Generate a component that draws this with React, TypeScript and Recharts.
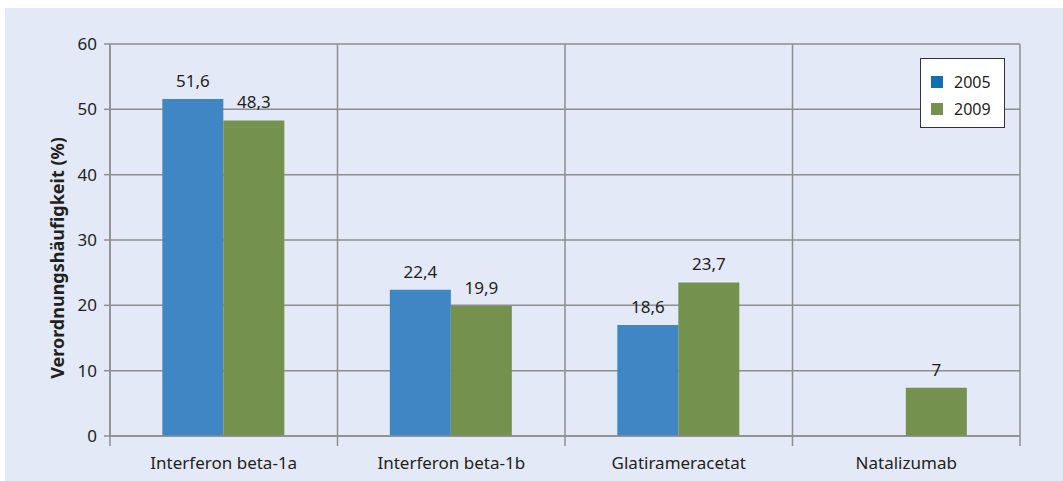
import { Bar, BarChart, CartesianGrid, LabelList, Legend, XAxis, YAxis } from "recharts";

const categories = ["Interferon beta-1a", "Interferon beta-1b", "Glatirameracetat", "Natalizumab"];
// bar heights as drawn
const values2005 = [51.6, 22.4, 17.0, null];
const values2009 = [48.3, 19.9, 23.5, 7.4];
// printed labels
const labels2005 = ["51,6", "22,4", "18,6", ""];
const labels2009 = ["48,3", "19,9", "23,7", "7"];
const yTicks = [0, 10, 20, 30, 40, 50, 60];

const BLUE = "#3f87c4";
const GREEN = "#75914e";
const GRID = "#8e8e8e";
const TEXT = "#231f20";
const FONT = "'Noto Sans', 'Open Sans', sans-serif";

const data = categories.map((name, i) => ({
  name,
  y2005: values2005[i],
  y2009: values2009[i],
  lab2005: labels2005[i],
  lab2009: labels2009[i],
}));

function CategoryTick(props: any) {
  const { x, y, payload } = props;
  const half = payload.offset ?? 0;
  return (
    <g>
      <line x1={x - half} x2={x - half} y1={y - 8} y2={y + 2} stroke={GRID} strokeWidth={1.5} />
      {payload.index === categories.length - 1 && (
        <line x1={x + half} x2={x + half} y1={y - 8} y2={y + 2} stroke={GRID} strokeWidth={1.5} />
      )}
      <text x={x} y={y + 18} textAnchor="middle" dominantBaseline="central" fill={TEXT} fontSize={17} fontFamily={FONT}>
        {payload.value}
      </text>
    </g>
  );
}

function LegendBox() {
  const items = [
    { label: "2005", color: "#0f70b6" },
    { label: "2009", color: GREEN },
  ];
  return (
    <div
      style={{
        width: 85,
        height: 70,
        background: "#fff",
        border: "1px solid #333",
        boxSizing: "border-box",
        paddingTop: 9,
        fontFamily: FONT,
      }}
    >
      {items.map((it) => (
        <div key={it.label} style={{ display: "flex", alignItems: "center", height: 27, paddingLeft: 10 }}>
          <span style={{ width: 12, height: 12, background: it.color, display: "inline-block" }} />
          <span style={{ marginLeft: 11, fontSize: 16, color: TEXT }}>{it.label}</span>
        </div>
      ))}
    </div>
  );
}

export default function App() {
  return (
    <div style={{ position: "absolute", left: 5, top: 8, width: 1058, height: 473, background: "#e3e9f7" }}>
      <BarChart
        width={1058}
        height={473}
        data={data}
        margin={{ top: 36, right: 43, bottom: 15, left: 0 }}
        barCategoryGap="23%"
        barGap={0}
      >
        <CartesianGrid
          stroke={GRID}
          strokeWidth={1.5}
          verticalCoordinatesGenerator={({ offset }: any) =>
            [0, 1, 2, 3, 4].map((i) => offset.left + (offset.width * i) / 4)
          }
        />
        <XAxis
          dataKey="name"
          height={30}
          axisLine={{ stroke: GRID, strokeWidth: 1.5 }}
          tickLine={false}
          tick={<CategoryTick />}
          interval={0}
        />
        <YAxis
          width={105}
          domain={[0, 60]}
          ticks={yTicks}
          interval={0}
          axisLine={{ stroke: GRID, strokeWidth: 1.5 }}
          tickLine={{ stroke: GRID, strokeWidth: 1.5 }}
          tickSize={6}
          tickMargin={7}
          tick={{ fill: TEXT, fontSize: 17, fontFamily: FONT }}
          label={{
            content: ({ viewBox }: any) => {
              const cx = viewBox.x + 52;
              const cy = viewBox.y + viewBox.height / 2 + 18;
              return (
                <text
                  x={cx}
                  y={cy}
                  transform={`rotate(-90 ${cx} ${cy})`}
                  textAnchor="middle"
                  dominantBaseline="central"
                  fill={TEXT}
                  fontSize={18}
                  fontWeight={700}
                  fontFamily={FONT}
                >
                  Verordnungshäufigkeit (%)
                </text>
              );
            },
          }}
        />
        <Legend
          layout="horizontal"
          verticalAlign="middle"
          align="center"
          wrapperStyle={{ left: 915, top: 50, width: 85 }}
          content={() => <LegendBox />}
        />
        <Bar dataKey="y2005" name="2005" fill={BLUE} isAnimationActive={false}>
          <LabelList dataKey="lab2005" position="top" offset={12} fill={TEXT} fontSize={17} fontFamily={FONT} />
        </Bar>
        <Bar dataKey="y2009" name="2009" fill={GREEN} isAnimationActive={false}>
          <LabelList dataKey="lab2009" position="top" offset={12} fill={TEXT} fontSize={17} fontFamily={FONT} />
        </Bar>
      </BarChart>
    </div>
  );
}
